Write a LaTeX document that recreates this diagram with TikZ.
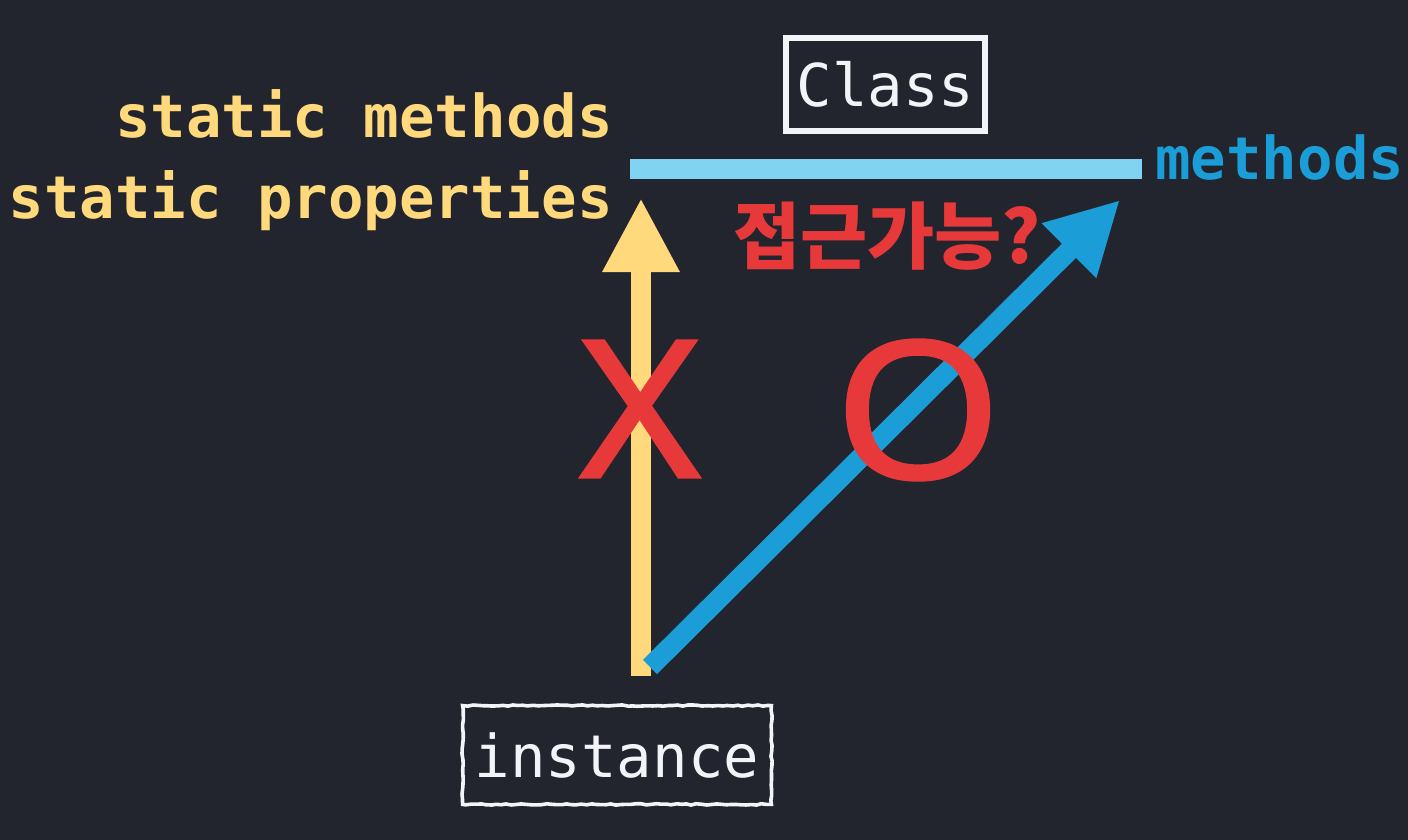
\documentclass[tikz,border=0pt]{standalone}
\usepackage{fontspec}
\setmonofont{DejaVu Sans Mono}
\newfontfamily\kofont{Noto Sans CJK KR}
\newfontfamily\markfont{Noto Sans}[FakeBold=1.2]
\usetikzlibrary{arrows.meta,decorations.pathmorphing}
\definecolor{cbg}{HTML}{23252E}
\definecolor{cyel}{HTML}{FFD97C}
\definecolor{csky}{HTML}{80D4F2}
\definecolor{cblue}{HTML}{1B9DD8}
\definecolor{cred}{HTML}{E8393A}
\definecolor{cwhite}{HTML}{F2F4F8}

\begin{document}
\begin{tikzpicture}[
  x=0.5pt, y=-0.5pt,
  code/.style={font=\ttfamily\fontsize{29.5pt}{33pt}\selectfont, inner sep=0pt},
  stat/.style={code, font=\ttfamily\bfseries\fontsize{29.5pt}{33pt}\selectfont, text=cyel, anchor=base east},
  frame/.style={code, draw=cwhite, text=cwhite, line width=3pt, minimum width=99.5pt, minimum height=46.5pt},
  sketch/.style={draw=cwhite, line width=1.8pt, decorate, decoration={random steps, segment length=2.5pt, amplitude=0.35pt}},
  signmark/.style={font=\markfont\fontsize{96pt}{100pt}\selectfont, text=cred, inner sep=0pt},
  yarr/.style={-{Triangle[length=37pt,width=36pt]}, line width=10pt, draw=cyel},
  barr/.style={-{Triangle[length=36pt,width=36pt]}, line width=10pt, draw=cblue}
]
\fill[cbg] (0,0) rectangle (1408,840);
\useasboundingbox (0,0) rectangle (1408,840);

\node[frame] (cls) at (885.5,84.5) {Class};
\node[code, text=cwhite, minimum width=154pt, minimum height=49pt] (inst) at (617,755) {instance};
\draw[sketch] (inst.south west) rectangle (inst.north east);

\node[stat] (smeth) at (613,138) {static methods};
\node[stat] (sprop) at (613,218) {static properties};
\node[code, font=\ttfamily\bfseries\fontsize{29.5pt}{33pt}\selectfont, text=cblue, anchor=base west] (meth) at (1155,179) {methods};

\coordinate (barl) at (630,169);
\coordinate (barr) at (1142,169);
\draw[csky, line width=10pt] (barl) -- (barr);

\coordinate (ybase) at (641,676);
\coordinate (ytip) at (641,198);
\draw[yarr] (ybase) -- (ytip);
\coordinate (bbase) at (650,667);
\coordinate (btip) at (1120,200);
\draw[barr] (bbase) -- (btip);

\node[font=\kofont\bfseries\fontsize{36.5pt}{42pt}\selectfont, text=cred, inner sep=0pt] (ask) at (887,236) {접근가능?};
\node[signmark, xscale=1.08] (no) at (640,409) {X};
\node[signmark, xscale=1.12] (yes) at (918,410) {O};
\end{tikzpicture}
\end{document}
